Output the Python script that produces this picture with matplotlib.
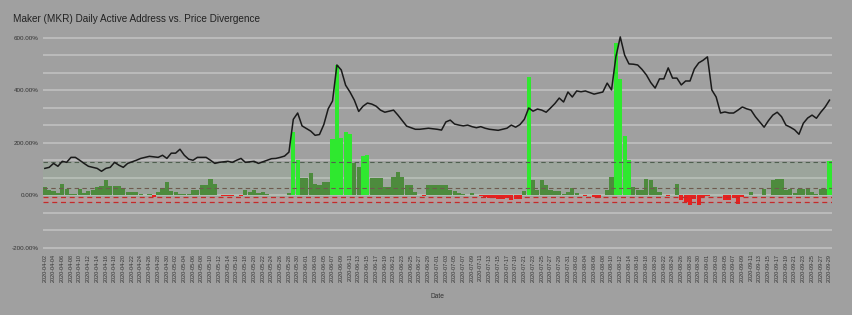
import matplotlib
matplotlib.use("Agg")
import matplotlib.pyplot as plt
import numpy as np
import pandas as pd
from matplotlib.ticker import MultipleLocator, FuncFormatter

plt.rcParams['font.family'] = ['Liberation Sans', 'DejaVu Sans']

TITLE = "Maker (MKR) Daily Active Address vs. Price Divergence"
dates = pd.date_range("2020-04-02", "2020-09-29", freq="D")

# price change (%), one value per day
price = [
    103, 107, 122, 111, 130, 126, 145, 145, 134, 122,
    111, 107, 103, 92, 103, 107, 126, 115, 107, 122,
    128, 134, 141, 145, 149, 147, 145, 153, 141, 161,
    161, 176, 153, 138, 134, 145, 145, 145, 134, 122,
    126, 128, 130, 126, 134, 141, 126, 128, 130, 122,
    128, 134, 140, 141, 145, 150, 165, 290, 314, 265,
    255, 245, 229, 232, 270, 330, 360, 497, 478, 420,
    394, 363, 320, 340, 352, 348, 340, 325, 317, 321,
    325, 306, 285, 264, 258, 252, 252, 254, 256, 254,
    252, 249, 280, 287, 272, 268, 265, 268, 262, 258,
    262, 256, 252, 250, 248, 252, 256, 268, 260, 270,
    290, 333, 321, 329, 325, 317, 333, 350, 371, 356,
    394, 375, 398, 395, 398, 392, 386, 390, 394, 428,
    402, 528, 604, 535, 501, 500, 497, 480, 459, 430,
    409, 444, 444, 486, 447, 447, 421, 436, 436, 482,
    505, 515, 528, 402, 375, 314, 318, 314, 314, 325,
    337, 330, 325, 300, 280, 260, 285, 306, 317, 300,
    268, 260, 250, 233, 275, 295, 306, 294, 317, 337,
    363,
]

# daily active address divergence (%), one value per day
divergence = [
    32, 20, 18, 8, 45, 25, 6, 5, 24, 8,
    18, 20, 32, 35, 57, 34, 34, 34, 30, 14,
    12, 13, 4, 3, 4, -6, 12, 30, 51, 18,
    12, 5, 4, 5, 20, 22, 38, 40, 64, 45,
    3, -3, -3, -2, 1, -3, 20, 12, 20, 10,
    12, 6, 2, 3, 2, 1, 10, 242, 134, 65,
    65, 84, 45, 38, 51, 51, 214, 497, 220, 241,
    235, 122, 107, 150, 153, 65, 65, 65, 31, 31,
    70, 89, 70, 38, 38, 13, 0, -3, 38, 38,
    38, 38, 38, 20, 15, 10, 5, 3, 8, 2,
    -3, -5, -8, -10, -12, -15, -10, -18, -12, -15,
    16, 452, 57, 19, 57, 38, 22, 15, 15, 6,
    13, 28, 9, 2, -3, 0, -5, -8, 3, 19,
    72, 581, 444, 226, 135, 32, 22, 22, 64, 57,
    32, 13, 0, -3, 2, 42, -19, -25, -38, -15,
    -38, -5, -3, 0, 2, 0, -19, -19, -10, -31,
    -5, 0, 13, 2, 0, 25, 3, 57, 64, 64,
    19, 25, 9, 25, 25, 25, 13, 6, 25, 25,
    130,
]

UPPER = 127
LOWER = 28
RED_HI = -6
RED_LO = -25

BG = '#a0a0a0'
fig = plt.figure(figsize=(8.53, 3.15), dpi=100, facecolor=BG)
ax = fig.add_axes([0.050, 0.203, 0.925, 0.689], facecolor=BG)

x = np.arange(len(dates))
div = np.array(divergence)
cols = np.where(div > UPPER, '#2fe82f', np.where(div < 0, '#e8201e', '#4d8b3d'))

ax.axhspan(RED_HI, UPPER, color='#88c888', alpha=0.13, lw=0, zorder=1)
ax.axhspan(RED_LO, RED_HI, color='#ff9090', alpha=0.25, lw=0, zorder=1)

ax.bar(x, div, width=0.95, color=cols, zorder=3)
ax.plot(x, price, color='#1a1a1a', lw=1.1, zorder=5)

ax.axhline(UPPER, color='#4f5f4f', ls=(0, (4, 3)), lw=0.8, zorder=4)
ax.axhline(LOWER, color='#6e5a4e', ls=(0, (4, 3)), lw=0.8, zorder=4)
ax.axhline(RED_HI, color='#c42a2a', ls=(0, (4, 3)), lw=0.9, zorder=4)
ax.axhline(RED_LO, color='#c42a2a', ls=(0, (4, 3)), lw=0.9, zorder=4)

ax.set_xlim(-0.5, len(dates) - 0.5)
ax.set_ylim(-212, 615)
ax.yaxis.set_major_locator(MultipleLocator(200))
ax.yaxis.set_minor_locator(MultipleLocator(200 / 3))
ax.yaxis.set_major_formatter(FuncFormatter(lambda v, p: "{:.2f}%".format(v)))
ax.grid(True, which='both', axis='y', color='#bdbdbd', lw=1.3, zorder=0)
ax.set_axisbelow(True)

ax.set_xticks(x[::2])
ax.set_xticklabels([d.strftime("%Y-%m-%d") for d in dates[::2]], rotation=90,
                   fontsize=3.9, color='#333333')
ax.tick_params(axis='both', which='both', length=0, pad=2)
ax.tick_params(axis='y', labelsize=4.5, labelcolor='#333333', pad=3)

for s in ax.spines.values():
    s.set_visible(False)

ax.set_xlabel("Date", fontsize=4.8, color='#333333', labelpad=8)
fig.text(0.015, 0.94, TITLE, fontsize=7.2, color='#222222', ha='left', va='center')

fig.savefig("out.png", dpi=100, facecolor=BG)
